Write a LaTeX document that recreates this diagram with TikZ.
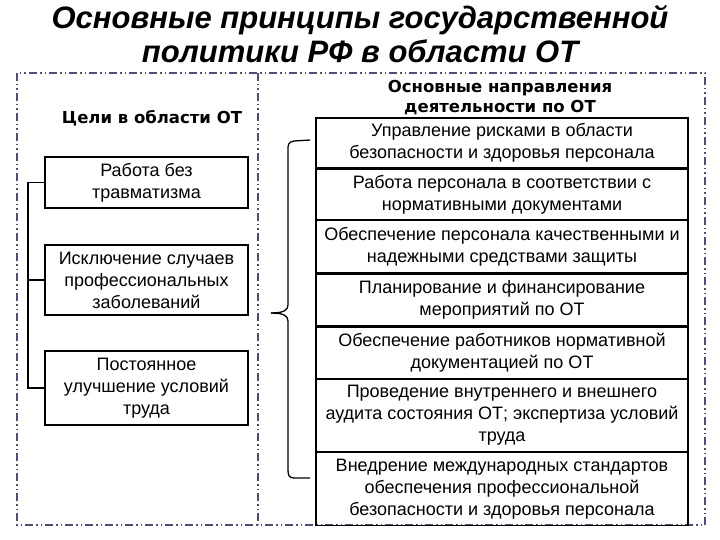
\documentclass[tikz,border=0pt]{standalone}
\usepackage{fontspec}
\setmainfont{Liberation Sans}
\newfontfamily\hdfont{DejaVu Sans}
\begin{document}
\begin{tikzpicture}[x=1pt,y=-1pt,
  frame/.style={draw=black!50!blue!40!gray, line width=1.5pt, dash pattern=on 8pt off 3pt on 1.5pt off 3pt on 1.5pt off 3pt},
  goal/.style={draw, line width=1.3pt, align=center, font=\fontsize{18}{22}\selectfont, inner sep=0pt},
  dir/.style={draw, line width=1.3pt, align=center, font=\fontsize{18}{22}\selectfont, inner sep=0pt, minimum width=372pt},
  hd/.style={font=\hdfont\bfseries\fontsize{16.5}{20}\selectfont, align=center},
  conn/.style={line width=1.3pt}]
\useasboundingbox (0,0) rectangle (720,540);
\node[font=\bfseries\itshape\fontsize{31}{34}\selectfont, align=center] (title) at (360,34) {Основные принципы государственной\\политики РФ в области ОТ};
\draw[frame] (17,73) rectangle (705,525);
\draw[frame] (258,73) -- (258,525);
\node[hd] (lh) at (152,118) {Цели в области ОТ};
\node[hd] (rh) at (500,98) {Основные направления\\деятельности по ОТ};
% left boxes
\node[goal, minimum width=203pt, minimum height=51pt] (g1) at (146.5,182.5) {Работа без\\травматизма};
\node[goal, minimum width=203pt, minimum height=70pt] (g2) at (146.5,280) {Исключение случаев\\профессиональных\\заболеваний};
\node[goal, minimum width=203pt, minimum height=74pt] (g3) at (146.5,388) {Постоянное\\улучшение условий\\труда};
\coordinate (c1) at (28,182.5);
\coordinate (c3) at (28,388);
\draw[conn] (g1.west) -- (c1) -- (c3) -- (g3.west);
\draw[conn] (g2.west) -- (28,280);
% right boxes
\node[dir, minimum height=50pt] (d1) at (502,143) {Управление рисками в области\\безопасности и здоровья персонала};
\node[dir, minimum height=50pt, anchor=north] (d2) at (d1.south) {Работа персонала в соответствии с\\нормативными документами};
\node[dir, minimum height=52pt, anchor=north] (d3) at (d2.south) {Обеспечение персонала качественными и\\надежными средствами защиты};
\node[dir, minimum height=52pt, anchor=north] (d4) at (d3.south) {Планирование и финансирование\\мероприятий по ОТ};
\node[dir, minimum height=51pt, anchor=north] (d5) at (d4.south) {Обеспечение работников нормативной\\документацией по ОТ};
\node[dir, minimum height=72pt, anchor=north] (d6) at (d5.south) {Проведение внутреннего и внешнего\\аудита состояния ОТ; экспертиза условий\\труда};
\node[dir, minimum height=73pt, anchor=north] (d7) at (d6.south) {Внедрение международных стандартов\\обеспечения профессиональной\\безопасности и здоровья персонала};
% brace
\coordinate (bt) at (310,140);
\coordinate (bb) at (310,478);
\coordinate (bm) at (271,313);
\draw[conn] (bt) -- (294,141) .. controls (288,142) and (288,145) .. (288,150) -- (288,305) .. controls (288,310) and (284,313) .. (bm);
\draw[conn] (bb) -- (294,478) .. controls (289,478) and (288,475) .. (288,470) -- (288,321) .. controls (288,316) and (284,313) .. (bm);
\end{tikzpicture}
\end{document}
